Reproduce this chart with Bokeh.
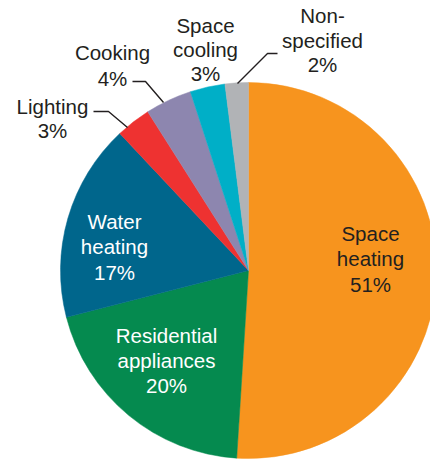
import math
from bokeh.plotting import figure
from bokeh.models import Range1d
from bokeh.core.properties import value
from bokeh.embed import file_html
from bokeh.resources import INLINE

# Data
categories = ["Space heating", "Residential appliances", "Water heating", "Lighting",
              "Cooking", "Space cooling", "Non-specified"]
shares = [51, 20, 17, 3, 4, 3, 2]
colors = ["#F7941E", "#058A4F", "#00668C", "#EE3231", "#8D86AF", "#00AFC7", "#B1B3B6"]

# Label texts (lines) and styling/positions (pixel coords, top-left origin)
label_lines = [
    ["Space", "heating", "51%"],
    ["Residential", "appliances", "20%"],
    ["Water", "heating", "17%"],
    ["Lighting", "3%"],
    ["Cooking", "4%"],
    ["Space", "cooling", "3%"],
    ["Non-", "specified", "2%"],
]
label_x = [370, 166, 114, 52, 112, 205, 322]
label_y = [[233, 258, 284], [335, 360, 385], [221, 246, 272], [106, 130], [52, 78],
           [25, 49, 73], [15, 40, 64]]
label_color = ["#231F20", "white", "white", "#231F20", "#231F20", "#231F20", "#231F20"]

leaders = {
    "Non-specified": [(237, 83), (267, 53), (277, 53)],
    "Cooking": [(132, 81), (145, 81), (163, 102)],
    "Lighting": [(93, 111), (108, 111), (127, 127)],
}

W, H = 430, 459
CX, CY, R = 248, 270, 188

def fy(py):
    return H - py

p = figure(width=W, height=H, output_backend="svg", toolbar_location=None,
           x_range=Range1d(0, W), y_range=Range1d(0, H), min_border=0)
p.axis.visible = False
p.grid.visible = False
p.outline_line_color = None
p.background_fill_color = "white"

total = sum(shares)
cum = 0.0
starts, ends = [], []
for s in shares:
    a0 = math.pi / 2 - 2 * math.pi * cum / total
    cum += s
    a1 = math.pi / 2 - 2 * math.pi * cum / total
    starts.append(a0)
    ends.append(a1)

p.wedge(x=[CX] * len(shares), y=[fy(CY)] * len(shares), radius=R,
        start_angle=starts, end_angle=ends, direction="clock",
        fill_color=colors, line_color=colors, line_width=0.5)

for name, pts in leaders.items():
    p.line(x=[q[0] for q in pts], y=[fy(q[1]) for q in pts],
           line_color="#231F20", line_width=1.4)

for lines, x, ys, c in zip(label_lines, label_x, label_y, label_color):
    p.text(x=[x] * len(lines), y=[fy(v) for v in ys], text=lines,
           text_align="center", text_baseline="middle",
           text_font=value("Liberation Sans"), text_font_size="20.5px",
           text_color=c)

open("out.html", "w").write(file_html(p, INLINE))
